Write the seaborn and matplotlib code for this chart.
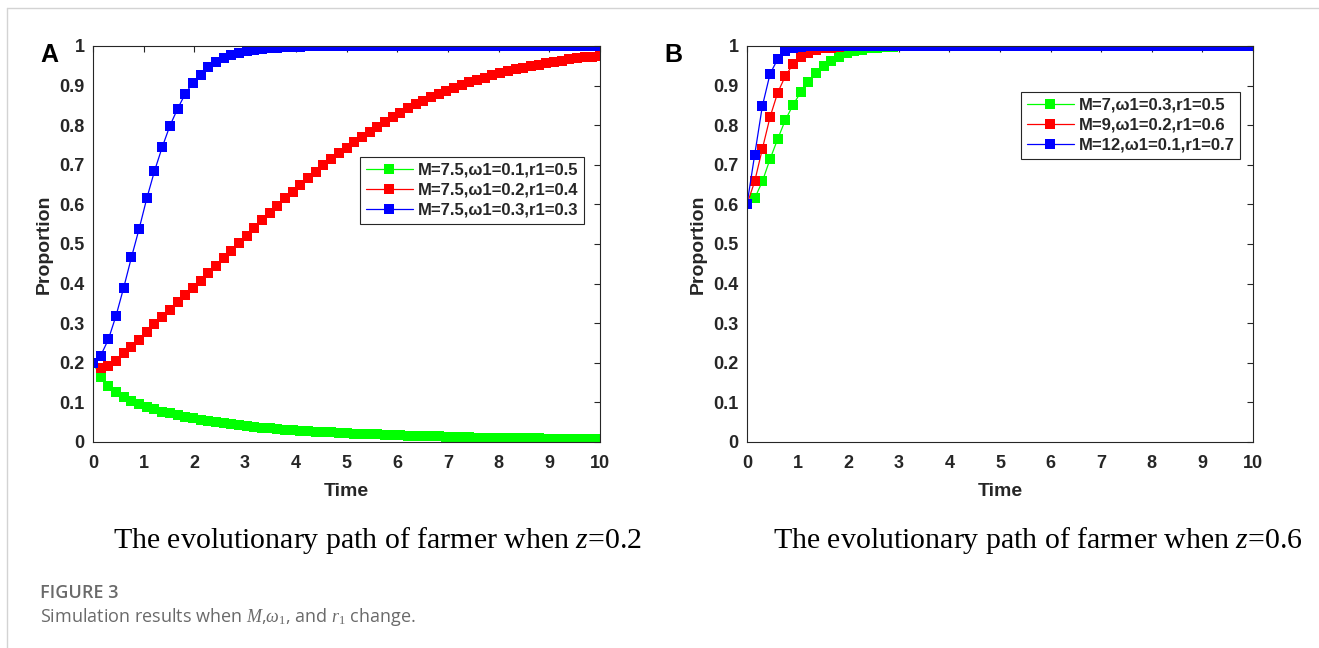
import numpy as np
import pandas as pd
import matplotlib.pyplot as plt
from matplotlib.lines import Line2D
import seaborn as sns

sns.set_theme(style='white')
plt.rcParams['font.family'] = ['Liberation Sans', 'DejaVu Sans']
plt.rcParams['mathtext.fontset'] = 'custom'
plt.rcParams['mathtext.it'] = 'Liberation Serif:italic'
plt.rcParams['mathtext.rm'] = 'Liberation Serif'

# time grid of the simulation (67 output points from 0 to 10)
time = np.linspace(0, 10, 67)

# panel A (z = 0.2)
a_green = [0.200, 0.164, 0.141, 0.126, 0.114, 0.104, 0.096, 0.089, 0.083, 0.077,
           0.072, 0.067, 0.063, 0.060, 0.056, 0.053, 0.050, 0.047, 0.045, 0.043,
           0.040, 0.038, 0.036, 0.035, 0.033, 0.031, 0.030, 0.029, 0.027, 0.026,
           0.025, 0.024, 0.023, 0.022, 0.021, 0.020, 0.019, 0.019, 0.018, 0.017,
           0.017, 0.016, 0.015, 0.015, 0.014, 0.014, 0.013, 0.013, 0.012, 0.012,
           0.011, 0.011, 0.011, 0.010, 0.010, 0.010, 0.009, 0.009, 0.009, 0.008,
           0.008, 0.008, 0.008, 0.007, 0.007, 0.007, 0.007]
a_red = [0.200, 0.188, 0.192, 0.205, 0.224, 0.241, 0.258, 0.279, 0.297, 0.315,
         0.333, 0.353, 0.371, 0.390, 0.407, 0.426, 0.445, 0.464, 0.483, 0.502,
         0.520, 0.541, 0.561, 0.579, 0.597, 0.615, 0.632, 0.649, 0.667, 0.683,
         0.700, 0.715, 0.729, 0.743, 0.757, 0.771, 0.784, 0.796, 0.809, 0.820,
         0.832, 0.843, 0.853, 0.862, 0.871, 0.879, 0.887, 0.894, 0.901, 0.908,
         0.914, 0.920, 0.926, 0.931, 0.936, 0.941, 0.945, 0.949, 0.953, 0.957,
         0.960, 0.963, 0.966, 0.969, 0.971, 0.973, 0.975]
a_blue = [0.200, 0.218, 0.259, 0.319, 0.390, 0.466, 0.538, 0.615, 0.684, 0.744,
          0.798, 0.841, 0.879, 0.907, 0.928, 0.947, 0.960, 0.970, 0.977, 0.983,
          0.987, 0.990, 0.993, 0.995, 0.996, 0.997, 0.998, 0.998, 0.999, 0.999,
          0.999, 1.000, 1.000, 1.000, 1.000, 1.000, 1.000, 1.000, 1.000, 1.000,
          1.000, 1.000, 1.000, 1.000, 1.000, 1.000, 1.000, 1.000, 1.000, 1.000,
          1.000, 1.000, 1.000, 1.000, 1.000, 1.000, 1.000, 1.000, 1.000, 1.000,
          1.000, 1.000, 1.000, 1.000, 1.000, 1.000, 1.000]

# panel B (z = 0.6)
b_green = [0.600, 0.615, 0.658, 0.714, 0.765, 0.813, 0.851, 0.883, 0.908, 0.931,
           0.950, 0.963, 0.973, 0.982, 0.987, 0.991, 0.994, 0.996, 0.997, 0.998,
           0.999, 0.999, 1.000, 1.000, 1.000, 1.000, 1.000, 1.000, 1.000, 1.000,
           1.000, 1.000, 1.000, 1.000, 1.000, 1.000, 1.000, 1.000, 1.000, 1.000,
           1.000, 1.000, 1.000, 1.000, 1.000, 1.000, 1.000, 1.000, 1.000, 1.000,
           1.000, 1.000, 1.000, 1.000, 1.000, 1.000, 1.000, 1.000, 1.000, 1.000,
           1.000, 1.000, 1.000, 1.000, 1.000, 1.000, 1.000]
b_red = [0.600, 0.658, 0.740, 0.820, 0.882, 0.924, 0.954, 0.973, 0.983, 0.990,
         0.994, 0.996, 0.998, 0.999, 1.000, 1.000, 1.000, 1.000, 1.000, 1.000,
         1.000, 1.000, 1.000, 1.000, 1.000, 1.000, 1.000, 1.000, 1.000, 1.000,
         1.000, 1.000, 1.000, 1.000, 1.000, 1.000, 1.000, 1.000, 1.000, 1.000,
         1.000, 1.000, 1.000, 1.000, 1.000, 1.000, 1.000, 1.000, 1.000, 1.000,
         1.000, 1.000, 1.000, 1.000, 1.000, 1.000, 1.000, 1.000, 1.000, 1.000,
         1.000, 1.000, 1.000, 1.000, 1.000, 1.000, 1.000]
b_blue = [0.600, 0.725, 0.848, 0.929, 0.967, 0.987, 0.994, 0.998, 0.999, 1.000,
          1.000, 1.000, 1.000, 1.000, 1.000, 1.000, 1.000, 1.000, 1.000, 1.000,
          1.000, 1.000, 1.000, 1.000, 1.000, 1.000, 1.000, 1.000, 1.000, 1.000,
          1.000, 1.000, 1.000, 1.000, 1.000, 1.000, 1.000, 1.000, 1.000, 1.000,
          1.000, 1.000, 1.000, 1.000, 1.000, 1.000, 1.000, 1.000, 1.000, 1.000,
          1.000, 1.000, 1.000, 1.000, 1.000, 1.000, 1.000, 1.000, 1.000, 1.000,
          1.000, 1.000, 1.000, 1.000, 1.000, 1.000, 1.000]

labels_a = ['M=7.5,ω1=0.1,r1=0.5', 'M=7.5,ω1=0.2,r1=0.4', 'M=7.5,ω1=0.3,r1=0.3']
labels_b = ['M=7,ω1=0.3,r1=0.5', 'M=9,ω1=0.2,r1=0.6', 'M=12,ω1=0.1,r1=0.7']
colors = ['#00ff00', '#ff0000', '#0000ff']
subtitles = ['The evolutionary path of farmer when $z$=0.2',
             'The evolutionary path of farmer when $z$=0.6']

W, H = 1319, 648
fig = plt.figure(figsize=(W / 100, H / 100), dpi=100)
fig.patch.set_facecolor('white')

# light frame of the page (left and top edges)
fig.add_artist(Line2D([7 / W, 7 / W], [0, 1 - 8 / H], transform=fig.transFigure, color='#d3d3d3', lw=1))
fig.add_artist(Line2D([7 / W, 1], [1 - 8 / H, 1 - 8 / H], transform=fig.transFigure, color='#d3d3d3', lw=1))

ax_a = fig.add_axes([93 / W, (H - 442) / H, 507 / W, 396 / H])
ax_b = fig.add_axes([747 / W, (H - 442) / H, 506 / W, 396 / H])

panels = [
    (ax_a, [a_green, a_red, a_blue], labels_a, (0.527, 0.72), 'A', 40),
    (ax_b, [b_green, b_red, b_blue], labels_b, (0.542, 0.884), 'B', 664),
]

for ax, series, labels, anchor, letter, letter_x in panels:
    for vals, lab, col in zip(series, labels, colors):
        df = pd.DataFrame({'Time': time, 'Proportion': vals})
        sns.lineplot(data=df, x='Time', y='Proportion', ax=ax, color=col, label=lab,
                     marker='s', markersize=6.6, markeredgewidth=0, linewidth=0.9)
    ax.set_xlim(0, 10)
    ax.set_ylim(0, 1)
    ax.set_xticks(range(0, 11))
    ax.set_yticks(np.arange(0, 1.01, 0.1))
    ax.set_yticklabels(['0', '0.1', '0.2', '0.3', '0.4', '0.5', '0.6', '0.7', '0.8', '0.9', '1'])
    ax.tick_params(direction='in', length=4, width=0.8, color='#262626',
                   top=True, right=True, labelsize=13)
    ax.tick_params(axis='x', pad=9)
    ax.tick_params(axis='y', pad=6)
    for lbl in ax.get_xticklabels() + ax.get_yticklabels():
        lbl.set_fontweight('bold')
        lbl.set_color('#262626')
    for sp in ax.spines.values():
        sp.set_color('#262626')
        sp.set_linewidth(0.8)
    ax.set_xlabel('Time', fontsize=14, fontweight='bold', color='#262626', labelpad=8)
    ax.set_ylabel('Proportion', fontsize=14, fontweight='bold', color='#262626', labelpad=5)
    leg = ax.legend(loc='upper left', bbox_to_anchor=anchor, frameon=True, fancybox=False,
                    edgecolor='#262626', framealpha=1, handlelength=2.8, handletextpad=0.3,
                    borderpad=0.35, labelspacing=0.3, borderaxespad=0,
                    prop={'weight': 'bold', 'size': 12})
    leg.get_frame().set_linewidth(0.8)
    fig.text(letter_x / W, 1 - 55 / H, letter, fontsize=18, fontweight='bold',
             color='black', va='center', ha='left')

fig.text(378 / W, 1 - 540 / H, subtitles[0], fontsize=21.5, family='Liberation Serif',
         ha='center', va='center', color='black')
fig.text(1038 / W, 1 - 540 / H, subtitles[1], fontsize=21.5, family='Liberation Serif',
         ha='center', va='center', color='black')

fig.text(40 / W, 1 - 593 / H, 'FIGURE 3', fontsize=13, family='Open Sans',
         fontweight='semibold', color='#6a6a6a', ha='left', va='center')
fig.text(40 / W, 1 - 617 / H, 'Simulation results when $M$,$\\omega_1$, and $r_1$ change.',
         fontsize=13, family='Open Sans', color='#6a6a6a', ha='left', va='center')

fig.savefig('out.png', dpi=100, facecolor='white')
